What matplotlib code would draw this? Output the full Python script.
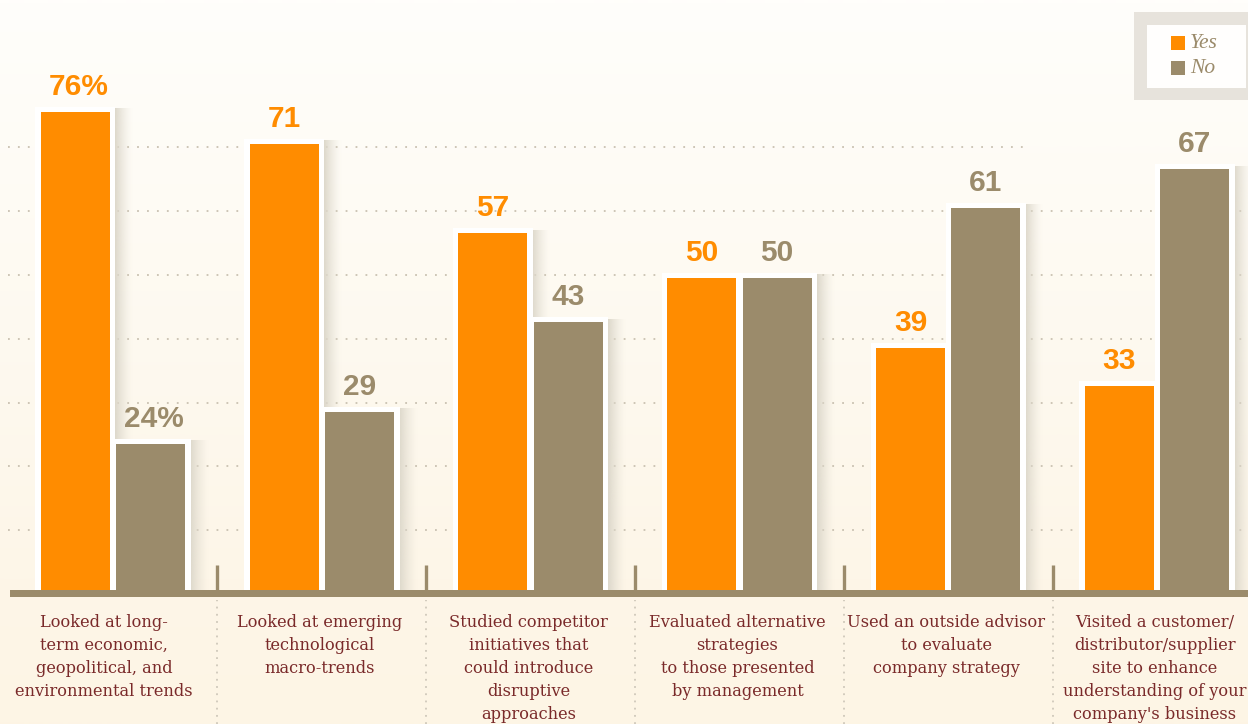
import numpy as np
import matplotlib
matplotlib.use('Agg')
import matplotlib.pyplot as plt
from matplotlib.patches import Rectangle
from matplotlib.colors import LinearSegmentedColormap, to_rgb

# ---------------- data ----------------
categories = [
    "Looked at long-\nterm economic,\ngeopolitical, and\nenvironmental trends",
    "Looked at emerging\ntechnological\nmacro-trends",
    "Studied competitor\ninitiatives that\ncould introduce\ndisruptive\napproaches",
    "Evaluated alternative\nstrategies\nto those presented\nby management",
    "Used an outside advisor\nto evaluate\ncompany strategy",
    "Visited a customer/\ndistributor/supplier\nsite to enhance\nunderstanding of your\ncompany's business",
]
yes_values = [76, 71, 57, 50, 39, 33]
no_values = [24, 29, 43, 50, 61, 67]
value_suffix = ["%", "", "", "", "", ""]
series_names = ["Yes", "No"]
grid_values = [10, 20, 30, 40, 50, 60, 70]

# ---------------- style ----------------
ORANGE = "#ff8c00"
TAUPE = "#9b8b6b"
LABEL_RED = "#7a2a2a"
GRID = "#c9c1b1"
SHADOW = "#ddd8cb"

W, H = 1248, 724
fig = plt.figure(figsize=(W / 100, H / 100), dpi=100)
ax = fig.add_axes([0, 0, 1, 1])

PX_X = 208.8      # pixels per category
X0_PX = 113       # pixel of first category centre
PX_Y = 6.385      # pixels per percentage point
Y0_PX = 597       # pixel row of zero (from top)
ax.set_xlim(-X0_PX / PX_X, (W - X0_PX) / PX_X)
ax.set_ylim(-(H - Y0_PX) / PX_Y, Y0_PX / PX_Y)
ax.axis("off")


def dx(p):
    return p / PX_X


def dy(p):
    return p / PX_Y


xmin, xmax = ax.get_xlim()
ymin, ymax = ax.get_ylim()

# background gradient
bg_cmap = LinearSegmentedColormap.from_list(
    "bg", [(0.0, "#fdf5e5"), (0.2, "#fdf6e8"), (1.0, "#fffefb")])
grad = np.linspace(0, 1, 724).reshape(-1, 1)
ax.imshow(grad, extent=[xmin, xmax, ymin, ymax], origin="lower", cmap=bg_cmap,
          aspect="auto", zorder=0, interpolation="bilinear")

# dotted gridlines
for g in grid_values:
    right = dx(1025 - X0_PX) if g == grid_values[-1] else xmax
    ax.hlines(g + 0.45, xmin + dx(8), right, colors=GRID, linestyles=(0, (1, 4.5)),
              linewidth=1.3, zorder=1)

x = np.arange(len(categories))
bw = dx(69)
off = dx(37.7)

shadow_rgb = np.array(to_rgb(SHADOW))
n = 64
alpha = np.linspace(1, 0, n) ** 1.4
shadow_img = np.zeros((1, n, 4))
shadow_img[0, :, :3] = shadow_rgb
shadow_img[0, :, 3] = alpha

for vals, color, sign in [(yes_values, ORANGE, -1), (no_values, TAUPE, 1)]:
    pos = x + sign * off
    # shadows
    for p, v in zip(pos, vals):
        left = p + bw / 2 + dx(5)
        ax.imshow(shadow_img, extent=[left, left + dx(18), 0, v + dy(3)],
                  aspect="auto", zorder=2, interpolation="bilinear")
    # white frames
    ax.bar(pos, np.array(vals) + dy(5), width=bw + dx(11), color="white",
           zorder=3, linewidth=0)
    # bars
    ax.bar(pos, vals, width=bw, color=color, zorder=4, linewidth=0)
    # value labels
    for p, v, s in zip(pos, vals, value_suffix):
        ax.text(p + (dx(3) if s else 0), v + dy(17), f"{v}{s}", ha="center",
                va="baseline", fontsize=21.5, fontweight="bold",
                family="Liberation Sans", color=color, zorder=7)

ax.set_xlim(xmin, xmax)
ax.set_ylim(ymin, ymax)

# baseline
ax.add_patch(Rectangle((xmin + dx(10), 0), xmax - xmin, dy(7), color=TAUPE,
                       zorder=6, linewidth=0))

# separators
seps = x[:-1] + 0.5
ax.vlines(seps, dy(7), dy(32), colors=TAUPE, linewidth=2.4, zorder=6)
ax.vlines(seps, ymin, -dy(3), colors="#cfc8ba", linestyles=(0, (1, 3)),
          linewidth=1.3, zorder=1)

# category labels
for i, lab in enumerate(categories):
    xc = x[i] - (dx(9) if i == 0 else dx(2))
    ax.text(xc, -dy(17), lab, ha="center", va="top", family="DejaVu Serif",
            fontsize=11.7, color=LABEL_RED, linespacing=1.46, zorder=7)

# legend (figure-pixel placement)
def fx(p):
    return p / W


def fy(p):
    return 1 - p / H


T = ax.transAxes
ax.add_patch(Rectangle((fx(1134), fy(100)), fx(114), 88 / H, transform=T,
                       color="#e7e3dc", zorder=8, linewidth=0))
ax.add_patch(Rectangle((fx(1147), fy(88)), fx(99), 63 / H, transform=T,
                       color="#fffefd", zorder=9, linewidth=0))
for name, color, ytop in zip(series_names, [ORANGE, TAUPE], [36, 61]):
    ax.add_patch(Rectangle((fx(1171), fy(ytop + 14)), fx(14), 14 / H, transform=T,
                           color=color, zorder=10, linewidth=0))
    ax.text(fx(1190), fy(ytop + 7.5), name, transform=T, ha="left", va="center",
            family="Liberation Serif", style="italic", fontsize=15.5,
            color=TAUPE, zorder=10)

fig.savefig("out.png", dpi=100)
